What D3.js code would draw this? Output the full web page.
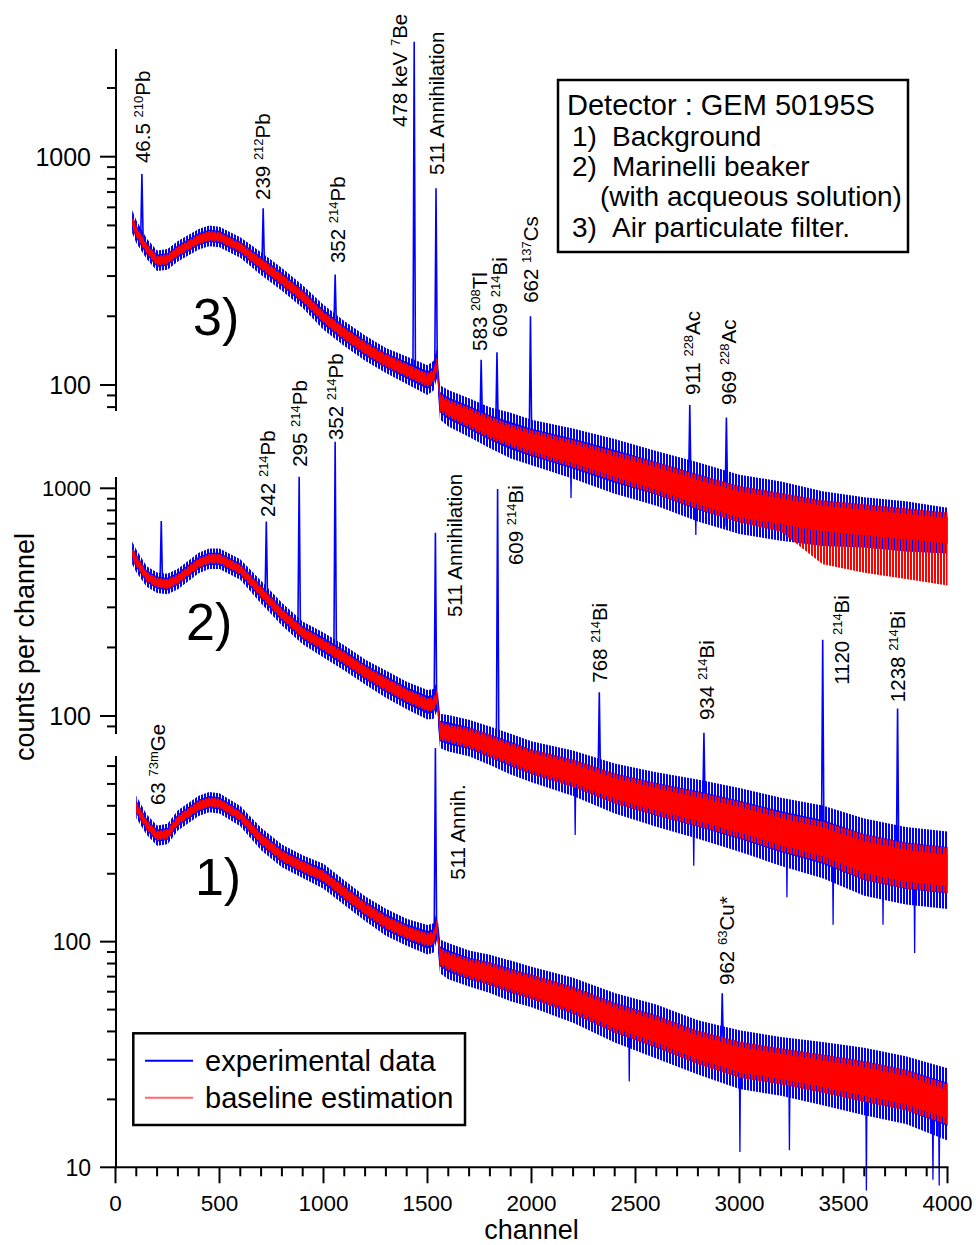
<!DOCTYPE html>
<html><head><meta charset="utf-8">
<script src="https://cdn.jsdelivr.net/npm/d3@7"></script>
<style>
body{margin:0;background:#fff}
svg{display:block}
text{font-family:"Liberation Sans",Arial,Helvetica,sans-serif;fill:#000}
</style>
</head><body>
<svg id="c" width="976" height="1245"></svg>
<script>
// ---------- DATA ----------
const channels = [80,100,150,200,250,300,400,450,500,600,700,800,900,1000,1100,1200,1300,1400,1500,1530,1545,1560,1600,1700,1800,1900,2000,2200,2400,2600,2800,3000,3200,3400,3600,3800,4000];

// Spectrum 3) Air particulate filter
const base3  = [520,470,395,350,355,385,435,450,445,400,340,290,244,198,168,145,128,116,105,110,124,84,79,72,65,60,56,50,44,39,34,30,28,26,25,24,23];
const blueW3 = [.05,.05,.045,.045,.045,.045,.045,.045,.045,.045,.05,.05,.05,.055,.055,.055,.055,.06,.065,.065,.065,.075,.08,.085,.09,.1,.1,.11,.12,.12,.13,.13,.13,.12,.11,.11,.1];
const redW3  = [.025,.025,.022,.022,.022,.022,.022,.022,.022,.022,.025,.025,.025,.025,.028,.028,.03,.03,.03,.03,.03,.04,.04,.045,.05,.05,.055,.06,.065,.07,.075,.08,.08,.08,.08,.08,.08];
const redLo3 = [.025,.025,.022,.022,.022,.022,.022,.022,.022,.022,.025,.025,.025,.025,.028,.028,.03,.03,.03,.03,.03,.04,.04,.045,.05,.05,.055,.06,.065,.07,.075,.08,.09,.2,.22,.23,.24];
const peakCh3   = [127,710,1056,1436,1541,1758,1834,1995,2761,2937];
const peakTop3  = [840,594,305,3190,728,129,139,200,81.7,72];
const peakBase3 = [430,335,180,112,120,68,64,57,35,32];
const labelPre3   = ["46.5 ","239 ","352 ","478 keV ","511 Annihilation","583 ","609 ","662 ","911 ","969 "];
const labelSup3   = ["210","212","214","7","","208","214","137","228","228"];
const labelPost3  = ["Pb","Pb","Pb","Be","","Tl","Bi","Cs","Ac","Ac"];
const labelCh3    = [166,743,1103,1401,1579,1786,1882,2031,2810,2983];
const labelCount3 = [938,646,342,1349,832,141,162,229,90.4,81.7];
const spikeCh3   = [2190,2790,2930];
const spikeVal3  = [32,22,24];
const spikeBase3 = [50,34,32];

// Spectrum 2) Marinelli beaker
const base2  = [520,480,410,385,380,400,470,490,490,440,350,280,232,205,180,156,138,123,112,113,122,86,84,80,74,68,63,56,48,43,39,35,31,28,24,22,21];
const blueW2 = [.05,.05,.045,.045,.045,.045,.045,.045,.045,.045,.05,.05,.05,.055,.055,.055,.06,.06,.065,.065,.065,.075,.08,.08,.085,.09,.09,.1,.11,.12,.13,.14,.15,.16,.17,.17,.17];
const redW2  = [.025,.025,.022,.022,.022,.022,.022,.022,.022,.022,.025,.025,.025,.025,.028,.028,.03,.03,.03,.03,.03,.04,.04,.045,.05,.05,.055,.06,.065,.07,.075,.08,.085,.09,.1,.1,.1];
const peakCh2   = [220,725,883,1056,1538,1837,2326,2829,3400,3760];
const peakTop2  = [718,714,1125,1603,638,993,127,84.5,216,108];
const peakBase2 = [384,330,240,192,116,72,51,38,28,22];
const labelPre2   = ["242 ","295 ","352 ","511 Annihilation","609 ","768 ","934 ","1120 ","1238 "];
const labelSup2   = ["214","214","214","","214","214","214","214","214"];
const labelPost2  = ["Pb","Pb","Pb","","Bi","Bi","Bi","Bi","Bi"];
const labelCh2    = [767,921,1094,1666,1959,2363,2877,3526,3796];
const labelCount2 = [748,1242,1629,272,460,140,96,137,115];
const spikeCh2   = [2210,2780,3228,3450,3690,3842];
const spikeVal2  = [30,22,16,12.1,12.1,9.1];
const spikeBase2 = [55,38,31,27,24,22];

// Spectrum 1) Background
const base1  = [null,395,330,295,300,345,400,415,410,360,285,240,215,195,165,140,122,110,102,104,118,86,82,76,72,67,63,55,46,40,34,30,28,26,24,22,19];
const blueW1 = [null,.05,.045,.045,.045,.045,.045,.045,.045,.045,.05,.05,.05,.055,.055,.055,.06,.06,.065,.065,.065,.075,.08,.08,.085,.09,.09,.1,.11,.12,.12,.13,.13,.14,.15,.15,.16];
const redW1  = [null,.025,.022,.022,.022,.022,.022,.022,.022,.022,.025,.025,.025,.025,.028,.028,.03,.03,.03,.03,.03,.04,.04,.045,.05,.05,.055,.06,.065,.07,.075,.08,.08,.085,.09,.09,.09];
const peakCh1   = [1538,2917];
const peakTop1  = [722,59];
const peakBase1 = [104,32];
const labelPre1   = ["63 ","511 Annih.","962 "];
const labelSup1   = ["73m","","63"];
const labelPost1  = ["Ge","","Cu*"];
const labelCh1    = [238,1680,2972];
const labelCount1 = [403,188,64.3];
const spikeCh1   = [2470,3002,3240,3610,3930,3960];
const spikeVal1  = [24,11.7,11.9,7.9,8.8,8.3];
const spikeBase1 = [45,30,27,24,20,20];

const panelNames  = ["3)","2)","1)"];
const panelNameCh = [373,339,382];
const panelNameCount = [166,216,161];

const xTicks = [0,500,1000,1500,2000,2500,3000,3500,4000];
const legendTop = ["Detector : GEM 50195S"];
const legendItems = [["1)","Background"],["2)","Marinelli beaker"],["","(with acqueous solution)"],["3)","Air particulate filter."]];
const seriesNames = ["experimental data","baseline estimation"];

// ---------- SCALES ----------
const svg = d3.select("#c");
const x = d3.scaleLinear().domain([0,4000]).range([115.5,947.5]);
const y3 = d3.scaleLog().domain([77.7,2963]).range([410,49]);
const y2 = d3.scaleLog().domain([84.2,1121]).range([733,477]);
const y1 = d3.scaleLog().domain([10,665]).range([1167.3,756]);

const BLUE = "#0000ff", RED = "#ff0000";

// stripe patterns emulate the dense zig-zag of the channel-by-channel traces
const defs = svg.append("defs");
const pb = defs.append("pattern").attr("id","bluePat").attr("patternUnits","userSpaceOnUse")
  .attr("width",3).attr("height",4);
pb.append("rect").attr("x",0).attr("y",0).attr("width",2).attr("height",4).attr("fill",BLUE);
const pr = defs.append("pattern").attr("id","redPat").attr("patternUnits","userSpaceOnUse")
  .attr("width",3).attr("height",4);
pr.append("rect").attr("x",1).attr("y",0).attr("width",2).attr("height",4).attr("fill",RED);

const panels = [
  {y:y3, base:base3, bw:blueW3, rw:redW3, rlo:redLo3, pc:peakCh3, pt:peakTop3, pb:peakBase3,
   sc:spikeCh3, sv:spikeVal3, sb:spikeBase3,
   lp:labelPre3, ls:labelSup3, lq:labelPost3, lc:labelCh3, ln:labelCount3, tf:{1000:25,100:25}},
  {y:y2, base:base2, bw:blueW2, rw:redW2, rlo:redW2, pc:peakCh2, pt:peakTop2, pb:peakBase2,
   sc:spikeCh2, sv:spikeVal2, sb:spikeBase2,
   lp:labelPre2, ls:labelSup2, lq:labelPost2, lc:labelCh2, ln:labelCount2, tf:{1000:22,100:25}},
  {y:y1, base:base1, bw:blueW1, rw:redW1, rlo:redW1, pc:peakCh1, pt:peakTop1, pb:peakBase1,
   sc:spikeCh1, sv:spikeVal1, sb:spikeBase1,
   lp:labelPre1, ls:labelSup1, lq:labelPost1, lc:labelCh1, ln:labelCount1, tf:{100:23,10:23}}
];

const gData = svg.append("g");
panels.forEach((p, k) => {
  const rows = channels.map((c,i)=>({c, b:p.base[i], bw:p.bw[i], rw:p.rw[i], rl:p.rlo[i]}));
  const band = (up, dn) => d3.area().defined(d=>d.b!=null)
    .x(d=>x(d.c)).y0(d=>p.y(d.b*Math.pow(10,-dn(d)))).y1(d=>p.y(d.b*Math.pow(10,up(d))));
  const g = gData.append("g");
  g.append("path").attr("d", band(d=>d.bw, d=>d.bw)(rows)).attr("fill", "url(#bluePat)");
  g.append("path").attr("d", band(d=>d.bw*0.6, d=>d.bw*0.6)(rows)).attr("fill", BLUE);
  const line = d3.line().x(d=>x(d[0])).y(d=>p.y(d[1]));
  p.sc.forEach((c,i)=>{
    g.append("path").attr("d", line([[c-3,p.sb[i]],[c,p.sv[i]],[c+3,p.sb[i]]]))
      .attr("fill","none").attr("stroke",BLUE).attr("stroke-width",1.3);
  });
  p.pc.forEach((c,i)=>{
    g.append("path").attr("d", line([[c-6,p.pb[i]],[c,p.pt[i]],[c+6,p.pb[i]]]))
      .attr("fill","none").attr("stroke",BLUE).attr("stroke-width",1.6);
  });
  g.append("path").attr("d", band(d=>d.rw, d=>d.rl)(rows)).attr("fill", "url(#redPat)");
  g.append("path").attr("d", band(d=>d.rw*0.7, d=>d.rw*0.7)(rows)).attr("fill", RED);
  p.lp.forEach((t,i)=>{
    const tx = g.append("text")
      .attr("transform", `translate(${x(p.lc[i])},${p.y(p.ln[i])}) rotate(-90)`)
      .attr("font-size", 20.5);
    tx.append("tspan").text(t);
    if (p.ls[i]) {
      tx.append("tspan").attr("font-size",13).attr("dy",-7).text(p.ls[i]);
      tx.append("tspan").attr("font-size",20.5).attr("dy",7).text(p.lq[i]);
    }
  });
  svg.append("text").attr("x", x(panelNameCh[k])).attr("y", p.y(panelNameCount[k]))
    .attr("font-size", 52).text(panelNames[k]);
});

// ---------- AXES ----------
const gAx = svg.append("g").attr("stroke","#000").attr("stroke-width",2);
const spineX = 116;
panels.forEach(p=>{
  const [d0,d1] = p.y.domain();
  gAx.append("line").attr("x1",spineX).attr("x2",spineX).attr("y1",p.y(d1)).attr("y2",p.y(d0)+1);
  p.y.ticks().forEach(v=>{
    const major = Math.abs(Math.log10(v)-Math.round(Math.log10(v)))<1e-9;
    gAx.append("line").attr("x1", major?100:107).attr("x2",spineX).attr("y1",p.y(v)).attr("y2",p.y(v));
    if (major) {
      svg.append("text").attr("x",91).attr("y",p.y(v)).attr("dy","0.36em")
        .attr("text-anchor","end").attr("font-size",p.tf[v]||23).text(v);
    }
  });
});
const xAxisY = y1(10);
gAx.append("line").attr("x1",x(0)-1).attr("x2",x(4000)+1).attr("y1",xAxisY).attr("y2",xAxisY);
d3.range(0,4001,100).forEach(v=>{
  const major = v%500===0;
  gAx.append("line").attr("x1",x(v)).attr("x2",x(v)).attr("y1",xAxisY).attr("y2",xAxisY+(major?16:9));
});
xTicks.forEach(v=>{
  svg.append("text").attr("x",x(v)).attr("y",xAxisY+44).attr("text-anchor","middle")
    .attr("font-size",22.5).text(v);
});
svg.append("text").attr("x",x(2000)).attr("y",1239).attr("text-anchor","middle")
  .attr("font-size",27).text("channel");
svg.append("text").attr("transform","translate(34,647) rotate(-90)").attr("text-anchor","middle")
  .attr("font-size",27).text("counts per channel");

// ---------- TOP LEGEND ----------
svg.append("rect").attr("x",558).attr("y",80).attr("width",350).attr("height",172)
  .attr("fill","#fff").attr("stroke","#000").attr("stroke-width",2.5);
svg.append("text").attr("x",567).attr("y",115).attr("font-size",29).text(legendTop[0]);
const legY = [146,176,206,236.5];
legendItems.forEach((it,i)=>{
  if (it[0]) svg.append("text").attr("x",572).attr("y",legY[i]).attr("font-size",28).text(it[0]);
  svg.append("text").attr("x", it[0]?612:600).attr("y",legY[i]).attr("font-size",28).text(it[1]);
});

// ---------- BOTTOM LEGEND ----------
svg.append("rect").attr("x",133.3).attr("y",1033.3).attr("width",331.7).attr("height",91.7)
  .attr("fill","#fff").attr("stroke","#000").attr("stroke-width",2.5);
const legCol = [BLUE, "#ff6a6a"];
seriesNames.forEach((n,i)=>{
  const yy = [1060.7,1097.7][i];
  svg.append("line").attr("x1",145).attr("x2",193).attr("y1",yy).attr("y2",yy)
    .attr("stroke",legCol[i]).attr("stroke-width",2);
  svg.append("text").attr("x",205).attr("y",yy+10).attr("font-size",29).text(n);
});
</script>
</body></html>
